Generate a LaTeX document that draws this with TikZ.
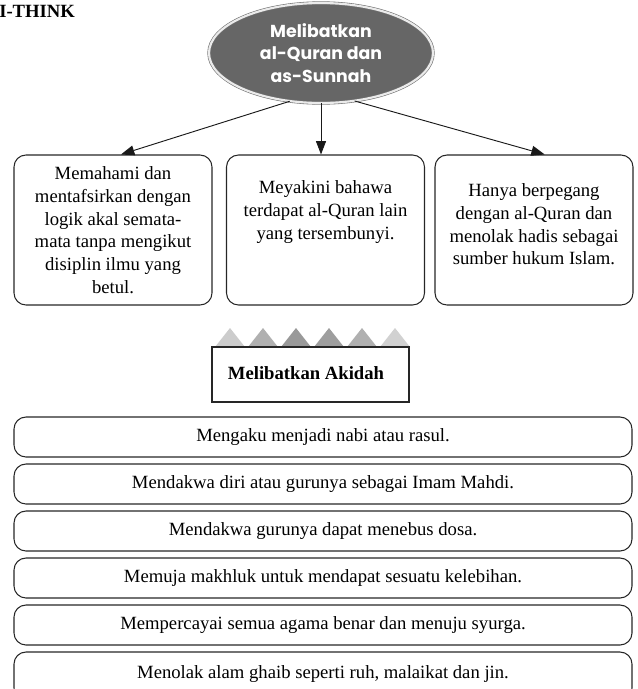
\documentclass[tikz,border=0pt]{standalone}
\usepackage{fontspec}
\setmainfont{Liberation Serif}
\newfontfamily\popp{Poppins}
\usetikzlibrary{arrows.meta,shapes.geometric}
\tikzset{
  boxline/.style={draw=black!85, line width=0.8pt},
  topbox/.style={boxline, rounded corners=9pt, minimum width=148.5pt, minimum height=112.5pt, inner sep=0pt},
  rowbox/.style={boxline, rounded corners=9pt, minimum width=463.5pt, minimum height=30pt, inner sep=0pt,
     font=\fontsize{14}{17}\selectfont},
  boxtext/.style={align=center, font=\fontsize{14}{17}\selectfont, inner sep=0pt},
  arr/.style={draw=black!90, line width=0.7pt, -{Triangle[length=10pt,width=7.5pt]}}
}
\begin{document}
\begin{tikzpicture}[x=0.75pt,y=-0.75pt]
\useasboundingbox (0,0) rectangle (637,689);

% heading
\node[anchor=base west, inner sep=0pt, font=\bfseries\fontsize{14}{17}\selectfont] (title) at (-1,17) {I-THINK};

% ellipse
\node[ellipse, minimum width=168pt, minimum height=75pt, inner sep=0pt,
      fill=black!60, draw=black!55, line width=0.45pt, double=black!8, double distance=1.6pt,
      align=center, text=white, font=\popp\bfseries\fontsize{13}{16.8}\selectfont] (ell) at (321,53)
      {Melibatkan\\al-Quran dan\\as-Sunnah};

% top boxes
\node[topbox] (lbox) at (113,230) {};
\node[topbox] (mbox) at (325.5,230) {};
\node[topbox] (rbox) at (534,230) {};

\node[boxtext] (ltext) at (113,230) {Memahami dan\\mentafsirkan dengan\\logik akal semata-\\mata tanpa mengikut\\disiplin ilmu yang\\betul.};
\node[boxtext] (mtext) at (325.5,212) {Meyakini bahawa\\terdapat al-Quran lain\\yang tersembunyi.};
\node[boxtext] (rtext) at (534,224.5) {Hanya berpegang\\dengan al-Quran dan\\menolak hadis sebagai\\sumber hukum Islam.};

% arrows
\draw[arr] (ell.237) -- ([xshift=6pt]lbox.north);
\draw[arr] (ell.south) -- (ell.south |- mbox.north);
\draw[arr] (ell.305) -- ([xshift=8pt]rbox.north);

% triangles
\fill[black!20] (215,347) -- (230,328) -- (245,347) -- cycle;
\fill[black!31] (248,347) -- (263,328) -- (278,347) -- cycle;
\fill[black!40] (281,347) -- (296,328) -- (311,347) -- cycle;
\fill[black!38] (314,347) -- (329,328) -- (344,347) -- cycle;
\fill[black!31] (347,347) -- (362,328) -- (377,347) -- cycle;
\fill[black!18] (380,347) -- (395,328) -- (410,347) -- cycle;

% Akidah box
\node[boxline, fill=white, minimum width=147.75pt, minimum height=41.25pt, inner sep=0pt] (akb) at (310.5,374.5) {};
\node[inner sep=0pt, font=\bfseries\fontsize{14}{17}\selectfont] (akt) at (306,373) {Melibatkan Akidah};

% rows
\node[rowbox] (r1) at (323,437) {Mengaku menjadi nabi atau rasul.};
\node[rowbox] (r2) at (323,484) {Mendakwa diri atau gurunya sebagai Imam Mahdi.};
\node[rowbox] (r3) at (323,531) {Mendakwa gurunya dapat menebus dosa.};
\node[rowbox] (r4) at (323,578) {Memuja makhluk untuk mendapat sesuatu kelebihan.};
\node[rowbox] (r5) at (323,625) {Mempercayai semua agama benar dan menuju syurga.};
\node[rowbox, minimum height=36pt] (r6) at (323,676) {};
\node[boxtext] (t6) at (323,674) {Menolak alam ghaib seperti ruh, malaikat dan jin.};
\end{tikzpicture}
\end{document}
